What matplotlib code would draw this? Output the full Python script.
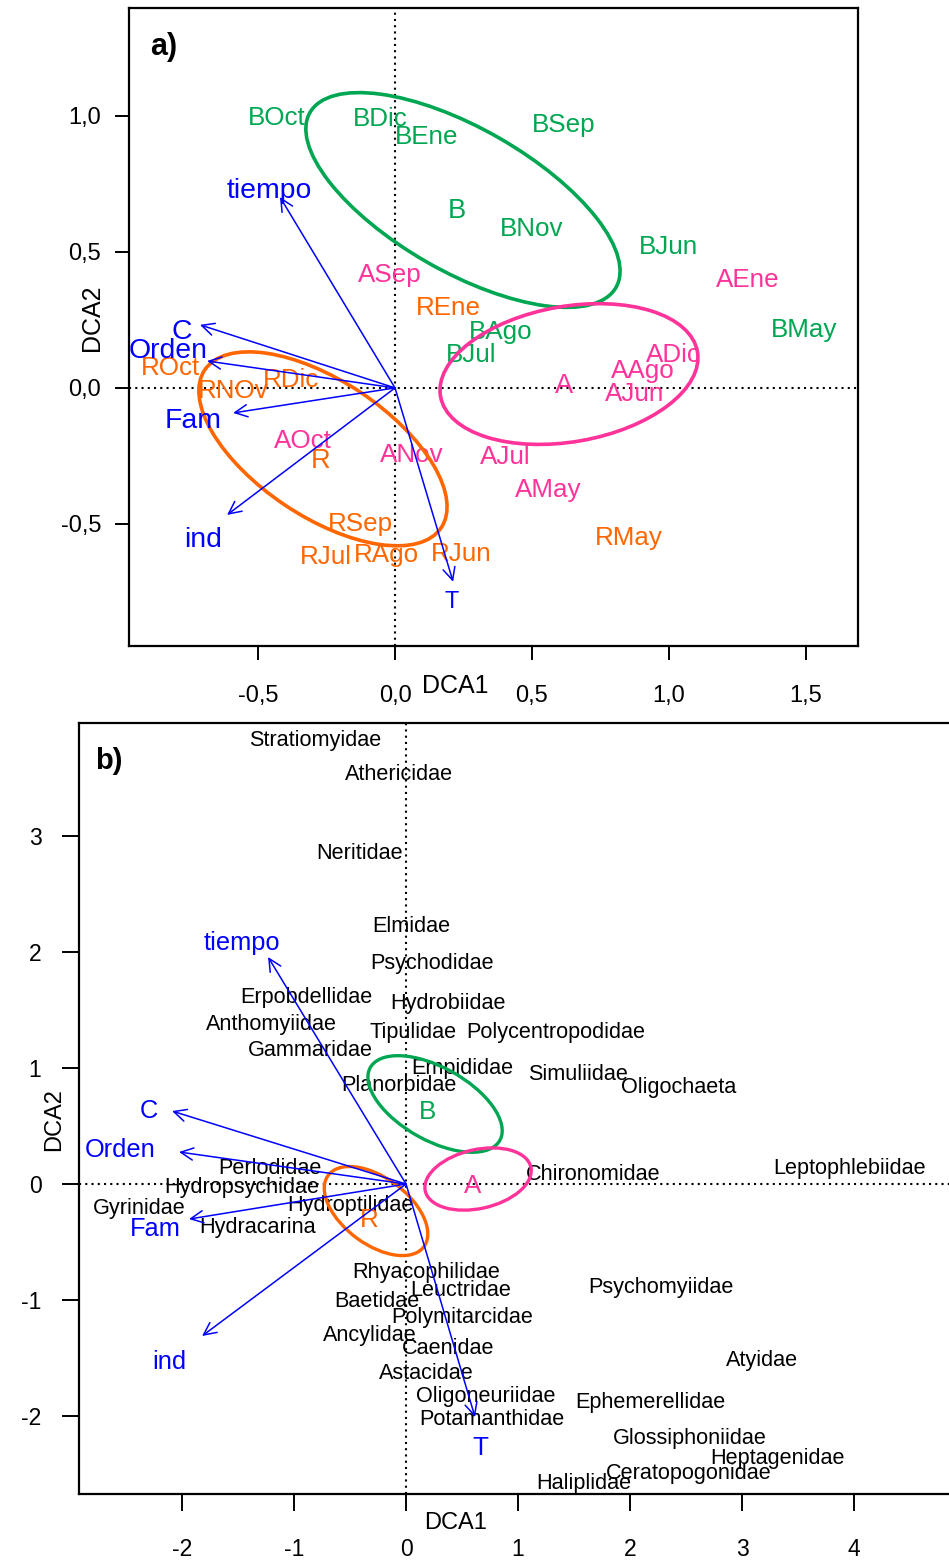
import matplotlib
matplotlib.use("Agg")
import matplotlib.pyplot as plt
from matplotlib.patches import Ellipse
from matplotlib import font_manager as fm

# ---------------- font choice ----------------
def has_font(name):
    try:
        fm.findfont(fm.FontProperties(family=name), fallback_to_default=False)
        return True
    except Exception:
        return False

if has_font("Liberation Sans Narrow"):
    FAM, SC = "Liberation Sans Narrow", 1.0
else:
    FAM, SC = "Liberation Sans", 0.89
plt.rcParams["font.family"] = [FAM, "DejaVu Sans"]

# ---------------- colours ----------------
GREEN = "#00A651"
PINK = "#FF3399"
ORANGE = "#FF6600"
BLUE = "#0000FF"

# ---------------- panel a data (DCA of samples) ----------------
site_B = ["BOct", "BDic", "BEne", "BSep", "BNov", "BJun", "BAgo", "BJul", "BMay"]
site_B_x = [-0.431, -0.055, 0.117, 0.617, 0.500, 1.000, 0.387, 0.277, 1.493]
site_B_y = [0.993, 0.989, 0.923, 0.967, 0.585, 0.518, 0.206, 0.121, 0.213]

site_A = ["ASep", "AEne", "ADic", "AAgo", "AJun", "AOct", "ANov", "AJul", "AMay"]
site_A_x = [-0.018, 1.288, 1.015, 0.905, 0.876, -0.336, 0.062, 0.401, 0.558]
site_A_y = [0.415, 0.397, 0.121, 0.063, -0.022, -0.195, -0.246, -0.254, -0.375]

site_R = ["REne", "ROct", "RNOv", "RDic", "RSep", "RJul", "RAgo", "RJun", "RMay"]
site_R_x = [0.193, -0.821, -0.591, -0.380, -0.128, -0.252, -0.033, 0.241, 0.854]
site_R_y = [0.294, 0.074, -0.011, 0.029, -0.500, -0.621, -0.614, -0.610, -0.551]

groups = ["B", "A", "R"]
group_colors = [GREEN, PINK, ORANGE]
a_group_x = [0.226, 0.617, -0.270]
a_group_y = [0.651, 0.007, -0.268]
a_ell_x = [0.248, 0.635, -0.263]
a_ell_y = [0.691, 0.051, -0.224]
a_ell_w = [1.289, 0.952, 1.040]
a_ell_h = [0.527, 0.498, 0.498]
a_ell_ang = [-30, 10, -34]

vec_names = ["tiempo", "C", "Orden", "Fam", "ind", "T"]
a_vec_x = [-0.420, -0.712, -0.686, -0.591, -0.613, 0.212]
a_vec_y = [0.702, 0.232, 0.099, -0.092, -0.467, -0.713]
a_vlab_x = [-0.460, -0.777, -0.828, -0.737, -0.701, 0.208]
a_vlab_y = [0.724, 0.206, 0.136, -0.121, -0.559, -0.787]

a_xticks = [-0.5, 0.0, 0.5, 1.0, 1.5]
a_xticklabels = ["-0,5", "0,0", "0,5", "1,0", "1,5"]
a_yticks = [-0.5, 0.0, 0.5, 1.0]
a_yticklabels = ["-0,5", "0,0", "0,5", "1,0"]

# ---------------- panel b data (DCA of taxa) ----------------
taxa = ["Stratiomyidae", "Athericidae", "Neritidae", "Elmidae", "Psychodidae",
        "Erpobdellidae", "Hydrobiidae", "Anthomyiidae", "Tipulidae",
        "Polycentropodidae", "Gammaridae", "Empididae", "Planorbidae",
        "Simuliidae", "Oligochaeta", "Perlodidae", "Hydropsychidae",
        "Gyrinidae", "Hydroptilidae", "Hydracarina", "Chironomidae",
        "Leptophlebiidae", "Rhyacophilidae", "Leuctridae", "Baetidae",
        "Polymitarcidae", "Ancylidae", "Caenidae", "Astacidae",
        "Oligoneuriidae", "Potamanthidae", "Psychomyiidae", "Atyidae",
        "Ephemerellidae", "Glossiphoniidae", "Heptagenidae",
        "Ceratopogonidae", "Haliplidae"]
taxa_x = [-0.813, -0.063, -0.411, 0.045, 0.232,
          -0.893, 0.375, -1.205, 0.063,
          1.339, -0.857, 0.500, -0.063,
          1.536, 2.438, -1.214, -1.464,
          -2.384, -0.500, -1.330, 1.670,
          3.964, 0.179, 0.491, -0.259,
          0.500, -0.321, 0.375, 0.179,
          0.714, 0.768, 2.277, 3.179,
          2.179, 2.536, 3.321,
          2.527, 1.589]
taxa_y = [3.819, 3.526, 2.845, 2.224, 1.905,
          1.612, 1.552, 1.379, 1.302,
          1.302, 1.155, 1.000, 0.853,
          0.940, 0.828, 0.138, -0.026,
          -0.207, -0.181, -0.379, 0.078,
          0.138, -0.759, -0.914, -1.009,
          -1.147, -1.302, -1.422, -1.629,
          -1.828, -2.034, -0.888, -1.517,
          -1.879, -2.190, -2.362,
          -2.491, -2.578]

b_group_x = [0.188, 0.598, -0.330]
b_group_y = [0.621, -0.017, -0.310]
b_ell_x = [0.259, 0.643, -0.268]
b_ell_y = [0.690, 0.043, -0.233]
b_ell_w = [1.316, 0.965, 1.053]
b_ell_h = [0.632, 0.509, 0.579]
b_ell_ang = [-28, 12, -35]

b_vec_x = [-1.232, -2.089, -2.027, -1.938, -1.821, 0.616]
b_vec_y = [1.957, 0.629, 0.276, -0.302, -1.310, -2.009]
b_vlab_x = [-1.464, -2.295, -2.554, -2.241, -2.116, 0.661]
b_vlab_y = [2.078, 0.629, 0.293, -0.388, -1.534, -2.276]

b_xticks = [-2, -1, 0, 1, 2, 3, 4]
b_yticks = [-2, -1, 0, 1, 2, 3]

# ---------------- figure ----------------
W, H = 949, 1560
fig = plt.figure(figsize=(W / 100, H / 100), dpi=100)
axA = fig.add_axes([129 / W, 1 - 646 / H, 729 / W, 638 / H])
axB = fig.add_axes([79 / W, 1 - 1494 / H, 881 / W, 771 / H])

axA.set_xlim(-0.971, 1.690)
axA.set_ylim(-0.949, 1.397)
axB.set_xlim(-2.920, 4.946)
axB.set_ylim(-2.672, 3.974)

for ax in (axA, axB):
    ax.axhline(0, color="black", lw=1.5, ls=(0, (1, 2)), zorder=1)
    ax.axvline(0, color="black", lw=1.5, ls=(0, (1, 2)), zorder=1)
    for s in ax.spines.values():
        s.set_linewidth(1.6)

# ---- panel a ----
for names, xs, ys, col in [(site_B, site_B_x, site_B_y, GREEN),
                           (site_A, site_A_x, site_A_y, PINK),
                           (site_R, site_R_x, site_R_y, ORANGE)]:
    for n, x, y in zip(names, xs, ys):
        axA.text(x, y, n, color=col, fontsize=21 * SC, ha="center", va="center", zorder=2)

for i, g in enumerate(groups):
    axA.text(a_group_x[i], a_group_y[i], g, color=group_colors[i], fontsize=22 * SC,
             ha="center", va="center", zorder=2)
    axA.add_patch(Ellipse((a_ell_x[i], a_ell_y[i]), a_ell_w[i], a_ell_h[i], angle=a_ell_ang[i],
                          fill=False, ec=group_colors[i], lw=2.6, zorder=3))

for i, n in enumerate(vec_names):
    axA.annotate("", xy=(a_vec_x[i], a_vec_y[i]), xytext=(0, 0),
                 arrowprops=dict(arrowstyle="->,head_length=0.45,head_width=0.22",
                                 color=BLUE, lw=1.1, shrinkA=0, shrinkB=0,
                                 mutation_scale=20), zorder=4)
    axA.text(a_vlab_x[i], a_vlab_y[i], n, color=BLUE,
             fontsize=(19 if n == "T" else 23) * SC, ha="center", va="center", zorder=4)

axA.set_xticks(a_xticks)
axA.set_xticklabels(a_xticklabels)
axA.set_yticks(a_yticks)
axA.set_yticklabels(a_yticklabels)
axA.tick_params(axis="both", direction="out", length=10, width=1.4, labelsize=17)
axA.tick_params(axis="x", pad=18)
axA.tick_params(axis="y", pad=10)
fig.text(164 / W, 1 - 47 / H, "a)", fontsize=22, fontweight="bold", ha="center", va="center")
fig.text(455 / W, 1 - 686 / H, "DCA1", fontsize=18, ha="center", va="center")
fig.text(92 / W, 1 - 318 / H, "DCA2", fontsize=18, ha="center", va="center", rotation=90)

# ---- panel b ----
for n, x, y in zip(taxa, taxa_x, taxa_y):
    axB.text(x, y, n, color="black", fontsize=17.5 * SC, ha="center", va="center", zorder=2)

for i, g in enumerate(groups):
    axB.text(b_group_x[i], b_group_y[i], g, color=group_colors[i], fontsize=21 * SC,
             ha="center", va="center", zorder=2)
    axB.add_patch(Ellipse((b_ell_x[i], b_ell_y[i]), b_ell_w[i], b_ell_h[i], angle=b_ell_ang[i],
                          fill=False, ec=group_colors[i], lw=2.4, zorder=3))

for i, n in enumerate(vec_names):
    axB.annotate("", xy=(b_vec_x[i], b_vec_y[i]), xytext=(0, 0),
                 arrowprops=dict(arrowstyle="->,head_length=0.45,head_width=0.22",
                                 color=BLUE, lw=1.1, shrinkA=0, shrinkB=0,
                                 mutation_scale=20), zorder=4)
    axB.text(b_vlab_x[i], b_vlab_y[i], n, color=BLUE, fontsize=(21 if n == "T" else 20.5) * SC,
             ha="center", va="center", zorder=4)

axB.set_xticks(b_xticks)
axB.set_xticklabels([str(t) for t in b_xticks])
axB.set_yticks(b_yticks)
axB.set_yticklabels([str(t) for t in b_yticks])
axB.tick_params(axis="both", direction="out", length=12, width=1.4, labelsize=16.5)
axB.tick_params(axis="x", pad=20)
axB.tick_params(axis="y", pad=15)
fig.text(109 / W, 1 - 761 / H, "b)", fontsize=21, fontweight="bold", ha="center", va="center")
fig.text(456 / W, 1 - 1523 / H, "DCA1", fontsize=17, ha="center", va="center")
fig.text(54 / W, 1 - 1120 / H, "DCA2", fontsize=17, ha="center", va="center", rotation=90)

fig.savefig("out.png", dpi=100)
